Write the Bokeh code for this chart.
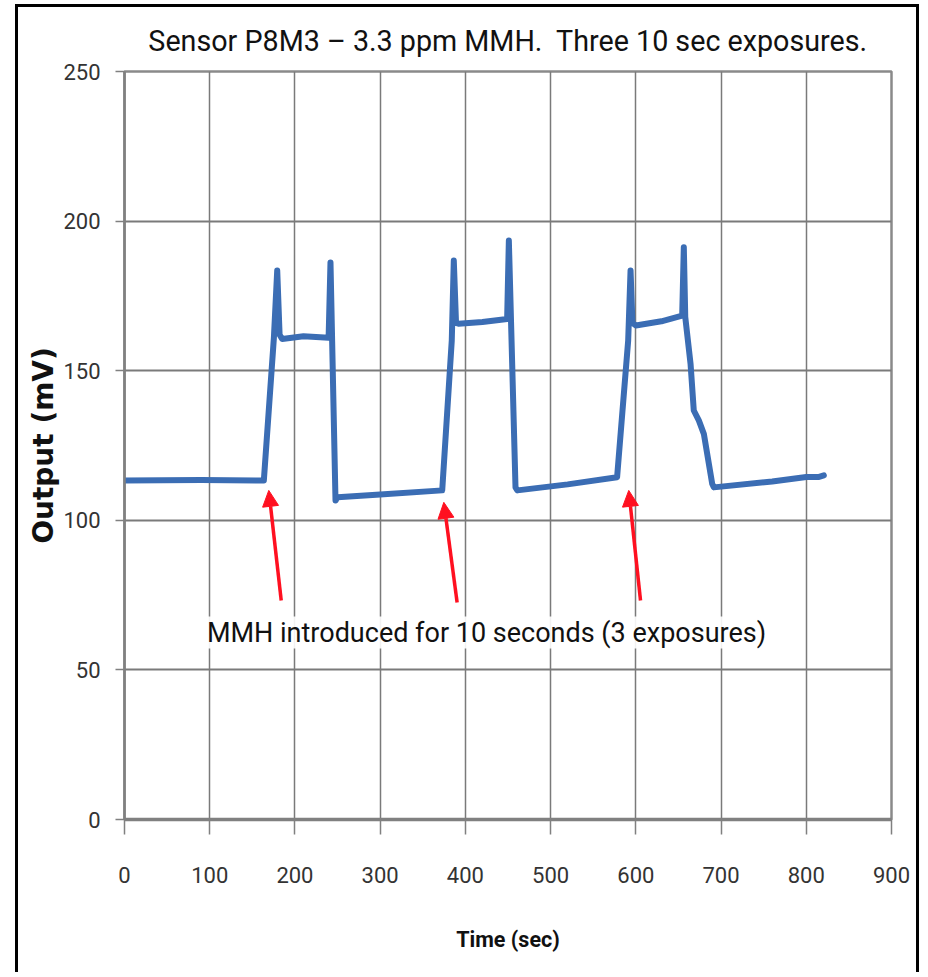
from bokeh.plotting import figure
from bokeh.models import Arrow, NormalHead, Label, FixedTicker, Range1d
from bokeh.embed import file_html
from bokeh.resources import INLINE

# ---- data ----
time_s = [0, 90, 163.5, 175.3, 179.2, 182, 185, 210, 239.5, 241.7, 247.6, 250, 300, 372.8,
          384, 386.4, 389, 392, 420, 449, 451, 458.8, 461, 520, 578,
          591, 593.8, 596, 600, 630, 654.4, 656.3, 658, 664.2, 668, 673.9, 679.8, 689.6,
          691.5, 760, 800, 815, 820.6]
output_mv = [113.3, 113.5, 113.3, 161, 183.5, 162, 160.6, 161.5, 161, 186.2, 106.6, 107.7, 108.6, 110,
             160, 186.8, 166, 165.7, 166.3, 167.3, 193.5, 111, 110, 112, 114.4,
             160, 183.5, 166, 165.1, 166.5, 168.4, 191.3, 167.9, 152.3, 136.7, 133.4, 128.9, 112.2,
             111, 113, 114.5, 114.5, 115]

x_ticks = [0, 100, 200, 300, 400, 500, 600, 700, 800, 900]
y_ticks = [0, 50, 100, 150, 200, 250]

# arrows: (tail_x, tail_y, head_x, head_y)
arrow_tail_x = [183.9, 390.3, 605.5]
arrow_tail_y = [73.2, 72.5, 73.2]
arrow_head_x = [169.3, 374.7, 591.7]
arrow_head_y = [110, 106, 110]

title_text = "Sensor P8M3 \u2013 3.3 ppm MMH.\u00a0 Three 10 sec exposures."
note_text = "MMH introduced for 10 seconds (3 exposures)"

FONT = "Roboto"

p = figure(width=904, height=968, output_backend="svg", toolbar_location=None,
           x_range=Range1d(0, 900), y_range=Range1d(0, 250),
           min_border_left=106, min_border_right=31, min_border_top=64, min_border_bottom=156,
           title=title_text)

# black picture frame around the chart (left, top, right edges)
p.styles = {"margin-left": "15px", "margin-top": "4px",
            "border-left": "3px solid black", "border-top": "3px solid black",
            "border-right": "3px solid black"}

p.title.text_font = FONT
p.title.text_font_size = "28.7px"
p.title.text_font_style = "normal"
p.title.text_color = "#111111"
p.title.align = "center"
p.title.standoff = 28

p.background_fill_color = "white"
p.border_fill_color = "white"
p.outline_line_color = "#8a8a8a"
p.outline_line_width = 2.5

# grid
p.xgrid.ticker = FixedTicker(ticks=x_ticks)
p.ygrid.ticker = FixedTicker(ticks=y_ticks)
p.xgrid.grid_line_color = "#7a7a7a"
p.xgrid.grid_line_width = 1.5
p.ygrid.grid_line_color = "#7a7a7a"
p.ygrid.grid_line_width = 2.2

# axes
p.xaxis.ticker = FixedTicker(ticks=x_ticks)
p.yaxis.ticker = FixedTicker(ticks=y_ticks)
for ax in (p.xaxis[0], p.yaxis[0]):
    ax.axis_line_color = "#808080"
    ax.major_tick_line_color = "#808080"
    ax.major_tick_line_width = 1.5
    ax.minor_tick_line_color = None
    ax.major_tick_in = 0
    ax.major_label_text_font = FONT
    ax.major_label_text_font_size = "22px"
    ax.major_label_text_color = "#333333"

p.xaxis.axis_line_width = 3.5
p.yaxis.axis_line_width = 2.5
p.xaxis.major_tick_out = 15
p.yaxis.major_tick_out = 9
p.xaxis.major_label_standoff = 32
p.yaxis.major_label_standoff = 15

p.xaxis.axis_label = "Time (sec)"
p.xaxis.axis_label_text_font = FONT
p.xaxis.axis_label_text_font_style = "bold"
p.xaxis.axis_label_text_font_size = "21.5px"
p.xaxis.axis_label_text_color = "#111111"
p.xaxis.axis_label_standoff = 41

p.yaxis.axis_label = "Output (mV)"
p.yaxis.axis_label_text_font = "DejaVu Sans"
p.yaxis.axis_label_text_font_style = "bold"
p.yaxis.axis_label_text_font_size = "28px"
p.yaxis.axis_label_text_color = "#111111"
p.yaxis.axis_label_standoff = 0

# data line
p.line(time_s, output_mv, line_color="#3b6db4", line_width=6, line_join="round", line_cap="round")

# arrows
for tx, ty, hx, hy in zip(arrow_tail_x, arrow_tail_y, arrow_head_x, arrow_head_y):
    p.add_layout(Arrow(x_start=tx, y_start=ty, x_end=hx, y_end=hy,
                       line_color="#ff1020", line_width=3.5,
                       end=NormalHead(size=16, fill_color="#ff1020", line_color="#ff1020")))

note = Label(x=424.8, y=62.5, text=note_text, text_align="center", text_baseline="middle",
             text_font=FONT, text_font_size="27px", text_color="#111111",
             background_fill_color="white", background_fill_alpha=0.9)
p.add_layout(note)

open("out.html", "w").write(file_html(p, INLINE))
